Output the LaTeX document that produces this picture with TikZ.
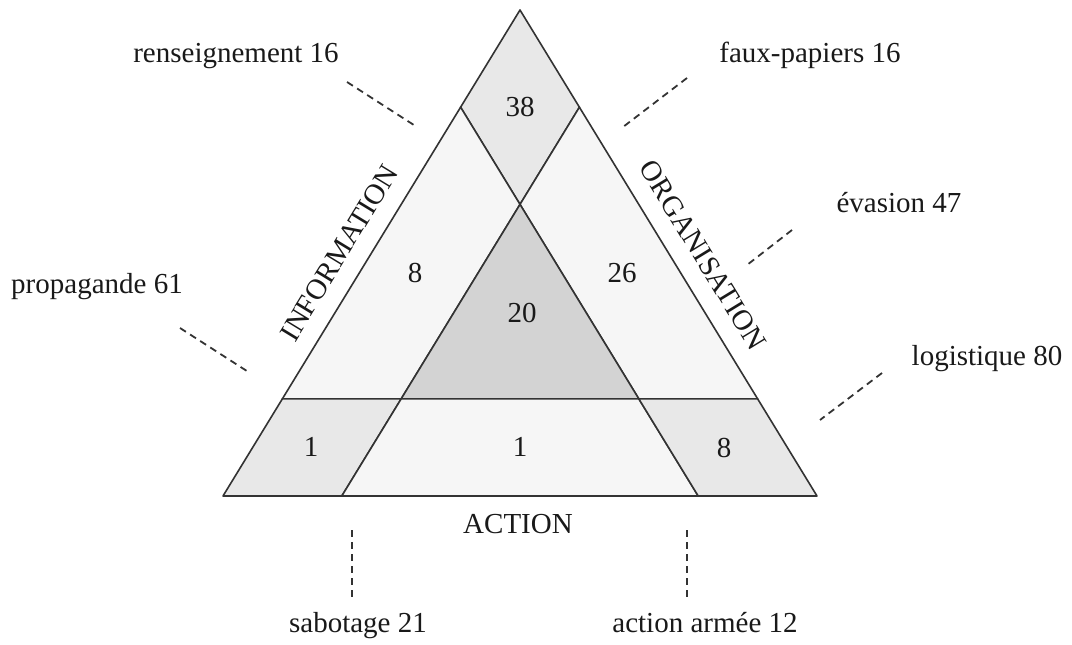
\documentclass[tikz,border=0pt]{standalone}
\usepackage{fontspec}
\setmainfont{Liberation Serif}
\definecolor{linec}{HTML}{333333}
\definecolor{fillA}{HTML}{E8E8E8}
\definecolor{fillB}{HTML}{F6F6F6}
\definecolor{fillC}{HTML}{D3D3D3}
\begin{document}
\begin{tikzpicture}[x=1pt,y=-1pt,
  region/.style={draw=linec,line width=1.6pt,line join=round},
  leader/.style={draw=linec,line width=1.8pt,dash pattern=on 7pt off 5pt},
  lbl/.style={inner sep=0pt,font=\fontsize{29}{34}\selectfont,text=black!90},
  num/.style={inner sep=0pt,font=\fontsize{29}{34}\selectfont,text=black!90}]
\useasboundingbox (0,0) rectangle (1072,645);
% main points
\coordinate (A) at (520,10);
\coordinate (L) at (223,496);
\coordinate (R) at (817,496);
\coordinate (P1) at (460.6,107.2);
\coordinate (P2) at (579.4,107.2);
\coordinate (C) at (520,204.4);
\coordinate (Q1) at (282.4,398.8);
\coordinate (Q2) at (757.6,398.8);
\coordinate (M1) at (401.2,398.8);
\coordinate (M2) at (638.8,398.8);
\coordinate (B1) at (341.8,496);
\coordinate (B2) at (698.2,496);
% regions
\path[region,fill=fillA] (A) -- (P2) -- (C) -- (P1) -- cycle;
\path[region,fill=fillB] (P1) -- (C) -- (M1) -- (Q1) -- cycle;
\path[region,fill=fillB] (P2) -- (Q2) -- (M2) -- (C) -- cycle;
\path[region,fill=fillC] (C) -- (M2) -- (M1) -- cycle;
\path[region,fill=fillA] (Q1) -- (M1) -- (B1) -- (L) -- cycle;
\path[region,fill=fillB] (M1) -- (M2) -- (B2) -- (B1) -- cycle;
\path[region,fill=fillA] (M2) -- (Q2) -- (R) -- (B2) -- cycle;
% numbers
\node[num] (n38) at (520,107) {38};
\node[num] (n8a) at (415,273) {8};
\node[num] (n26) at (622,273) {26};
\node[num] (n20) at (522,313) {20};
\node[num] (n1a) at (311,447) {1};
\node[num] (n1b) at (520,447) {1};
\node[num] (n8b) at (724,448) {8};
% side titles
\node[lbl,rotate=58.6] (info) at (339,253) {INFORMATION};
\node[lbl,rotate=-58.6] (orga) at (703,255) {ORGANISATION};
\node[lbl,anchor=base] (action) at (518,533) {ACTION};
% outer labels
\node[lbl,anchor=base] (rens) at (236,62) {renseignement 16};
\node[lbl,anchor=base] (faux) at (810,62) {faux-papiers 16};
\node[lbl,anchor=base] (evas) at (899,212) {évasion 47};
\node[lbl,anchor=base] (logi) at (987,365) {logistique 80};
\node[lbl,anchor=base] (prop) at (97,293) {propagande 61};
\node[lbl,anchor=base] (sabo) at (358,632) {sabotage 21};
\node[lbl,anchor=base] (arme) at (705,632) {action armée 12};
% leader lines
\coordinate (r1) at (347,82);  \coordinate (r2) at (417,127);
\coordinate (f1) at (687,78);  \coordinate (f2) at (623,127);
\coordinate (e1) at (792,230); \coordinate (e2) at (747,265);
\coordinate (l1) at (882,373); \coordinate (l2) at (820,420);
\coordinate (p1) at (180,328); \coordinate (p2) at (250,373);
\coordinate (s1) at (352,530); \coordinate (s2) at (352,600);
\coordinate (a1) at (687,530); \coordinate (a2) at (687,600);
\draw[leader] (r1) -- (r2);
\draw[leader] (f1) -- (f2);
\draw[leader] (e1) -- (e2);
\draw[leader] (l1) -- (l2);
\draw[leader] (p1) -- (p2);
\draw[leader] (s1) -- (s2);
\draw[leader] (a1) -- (a2);
\end{tikzpicture}
\end{document}
